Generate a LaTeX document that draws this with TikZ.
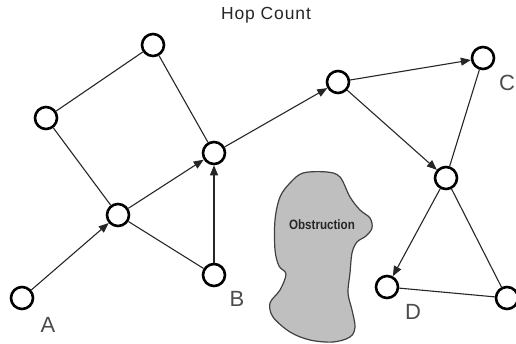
\documentclass[tikz,border=0pt]{standalone}
\usepackage{fontspec}
\setmainfont{Liberation Sans}
\newfontfamily\obsfont[FakeStretch=0.86]{Liberation Sans Bold}
\newfontfamily\titlefont[LetterSpace=5]{Liberation Sans}
\usetikzlibrary{arrows.meta}
\begin{document}
\begin{tikzpicture}[x=1pt,y=-1pt,
  host/.style={circle,draw=black,line width=2.6pt,fill=white,minimum size=22pt,inner sep=0pt},
  link/.style={draw=black!85,line width=1.1pt},
  hop/.style={link,-{Triangle[length=10pt,width=8pt]}},
  lbl/.style={font=\fontsize{22}{24}\selectfont,text=black!70},
  blob/.style={fill=black!25,draw=black!75,line width=1.2pt}]
\useasboundingbox (0,0) rectangle (516,343);
\path[blob] plot[smooth cycle,tension=0.55] coordinates {
 (303,173) (327,172) (340,177) (350,197) (360,210) (370,218) (372,228)
 (366,236) (357,242) (352,253) (350,273) (348,293) (352,310) (355,327)
 (350,337) (333,342) (310,340) (290,332) (273,317) (270,303) (280,290)
 (286,274) (279,266) (275,250) (275,220) (280,197) (290,183)};
\node[font=\obsfont\fontsize{13.5}{15}\selectfont,text=black!85] (obs) at (322,225) {Obstruction};
\node[font=\titlefont\fontsize{17.5}{20}\selectfont,text=black!85] (title) at (266,15) {Hop Count};
\node[host] (n1) at (153,45) {};
\node[host] (n2) at (46,118) {};
\node[host] (n3) at (214,153) {};
\node[host] (n4) at (118,215) {};
\node[host] (a) at (22,298) {};
\node[host] (b) at (214,275) {};
\node[host] (n5) at (338,82) {};
\node[host] (c) at (483,58) {};
\node[host] (n6) at (446,178) {};
\node[host] (d) at (387,287) {};
\node[host] (e) at (507,298) {};
\node[lbl] (la) at (48,325) {A};
\node[lbl] (lb) at (237,299) {B};
\node[lbl] (lc) at (507,83) {C};
\node[lbl] (ld) at (413,312) {D};
\draw[link] (n2) -- (n1);
\draw[link] (n1) -- (n3);
\draw[link] (n2) -- (n4);
\draw[link] (n4) -- (b);
\draw[link] (c) -- (n6);
\draw[link] (n6) -- (e);
\draw[link] (d) -- (e);
\draw[hop] (a) -- (n4);
\draw[hop] (n4) -- (n3);
\draw[hop] (b) -- (n3);
\draw[hop] (n3) -- (n5);
\draw[hop] (n5) -- (c);
\draw[hop] (n5) -- (n6);
\draw[hop] (n6) -- (d);
\end{tikzpicture}
\end{document}
